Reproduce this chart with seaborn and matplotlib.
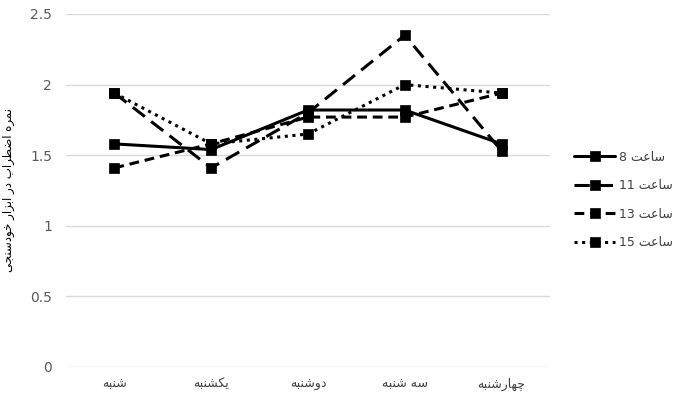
import matplotlib
matplotlib.use("Agg")
import matplotlib.pyplot as plt
import seaborn as sns
import pandas as pd

# ---- data -------------------------------------------------------------
days = ["شنبه", "یکشنبه", "دوشنبه", "سه شنبه", "چهارشنبه"]
hours = ["ساعت 8", "ساعت 11", "ساعت 13", "ساعت 15"]
h8 = [1.58, 1.54, 1.82, 1.82, 1.58]
h11 = [1.94, 1.41, 1.80, 2.35, 1.53]
h13 = [1.41, 1.58, 1.77, 1.77, 1.94]
h15 = [1.94, 1.58, 1.65, 2.00, 1.94]
y_ticks = [0, 0.5, 1, 1.5, 2, 2.5]
y_tick_labels = ["0", "0.5", "1", "1.5", "2", "2.5"]
y_title = "نمره اضطراب در ابزار خودسنجی"

# ---- minimal Arabic-script shaping (contextual forms + RTL order) -----
FORMS = {  # isolated, final, initial, medial
    "ا": ("\uFE8D", "\uFE8E", None, None),
    "د": ("\uFEA9", "\uFEAA", None, None),
    "ر": ("\uFEAD", "\uFEAE", None, None),
    "ز": ("\uFEAF", "\uFEB0", None, None),
    "و": ("\uFEED", "\uFEEE", None, None),
    "ب": ("\uFE8F", "\uFE90", "\uFE91", "\uFE92"),
    "ت": ("\uFE95", "\uFE96", "\uFE97", "\uFE98"),
    "ج": ("\uFE9D", "\uFE9E", "\uFE9F", "\uFEA0"),
    "خ": ("\uFEA5", "\uFEA6", "\uFEA7", "\uFEA8"),
    "س": ("\uFEB1", "\uFEB2", "\uFEB3", "\uFEB4"),
    "ش": ("\uFEB5", "\uFEB6", "\uFEB7", "\uFEB8"),
    "ض": ("\uFEBD", "\uFEBE", "\uFEBF", "\uFEC0"),
    "ط": ("\uFEC1", "\uFEC2", "\uFEC3", "\uFEC4"),
    "ع": ("\uFEC9", "\uFECA", "\uFECB", "\uFECC"),
    "م": ("\uFEE1", "\uFEE2", "\uFEE3", "\uFEE4"),
    "ن": ("\uFEE5", "\uFEE6", "\uFEE7", "\uFEE8"),
    "ه": ("\uFEE9", "\uFEEA", "\uFEEB", "\uFEEC"),
    "چ": ("\uFB7A", "\uFB7B", "\uFB7C", "\uFB7D"),
    "ک": ("\uFB8E", "\uFB8F", "\uFB90", "\uFB91"),
    "ی": ("\uFBFC", "\uFBFD", "\uFBFE", "\uFBFF"),
}


def _shape_word(word):
    out = []
    for i, ch in enumerate(word):
        if ch not in FORMS:
            out.append(ch)
            continue
        prev = word[i - 1] if i > 0 else None
        nxt = word[i + 1] if i + 1 < len(word) else None
        join_prev = prev in FORMS and FORMS[prev][2] is not None
        join_next = FORMS[ch][2] is not None and nxt in FORMS
        iso, fin, ini, med = FORMS[ch]
        if join_prev and join_next:
            out.append(med)
        elif join_prev:
            out.append(fin)
        elif join_next:
            out.append(ini)
        else:
            out.append(iso)
    return "".join(out)


def rtl(text):
    words = text.split(" ")
    vis = []
    for w in reversed(words):
        vis.append(w if w.isdigit() else _shape_word(w)[::-1])
    return " ".join(vis)


# ---- long-form table --------------------------------------------------
day_lbl = [rtl(d) for d in days]
hour_lbl = [rtl(h) for h in hours]
rows = []
for lbl, vals in zip(hour_lbl, [h8, h11, h13, h15]):
    for d, v in zip(day_lbl, vals):
        rows.append({"day": d, "score": v, "hour": lbl})
df = pd.DataFrame(rows)

# ---- figure -----------------------------------------------------------
sns.set_theme(style="white")
plt.rcParams["font.family"] = ["DejaVu Sans"]

fig = plt.figure(figsize=(6.74, 4.0), dpi=100)
ax = fig.add_axes([66 / 674, 33 / 400, 484 / 674, 353 / 400])

dashes = {
    hour_lbl[0]: "",
    hour_lbl[1]: (5.0, 2.6),
    hour_lbl[2]: (3.2, 1.9),
    hour_lbl[3]: (1.0, 1.5),
}
markers = {h: "s" for h in hour_lbl}

sns.lineplot(
    data=df, x="day", y="score", style="hour", style_order=hour_lbl,
    dashes=dashes, markers=markers, color="black", linewidth=2.2,
    markersize=7, markeredgecolor="black", markeredgewidth=0.5,
    sort=False, ax=ax,
)

ax.set_xlim(-0.5, len(days) - 0.5)
ax.set_ylim(0, 2.5)
ax.set_yticks(y_ticks)
ax.set_yticklabels(y_tick_labels)
ax.yaxis.grid(True, color="#d9d9d9", linewidth=1)
ax.set_axisbelow(True)
for s in ax.spines.values():
    s.set_visible(False)
ax.tick_params(axis="y", length=0, pad=10, labelsize=10, labelcolor="#595959")
ax.tick_params(axis="x", length=0, pad=8, labelsize=9, labelcolor="#404040")
ax.set_xlabel("")
ax.set_ylabel(rtl(y_title), fontsize=8.5, color="black")
ax.yaxis.set_label_coords(-0.105, 0.5)

handles, labels = ax.get_legend_handles_labels()
ax.legend(
    handles, labels, loc="center left", bbox_to_anchor=(574 / 674, 200 / 400),
    bbox_transform=fig.transFigure, frameon=False, fontsize=9,
    handlelength=3.3, labelspacing=1.25, handletextpad=0.3,
    borderpad=0, borderaxespad=0, labelcolor="#404040",
)

fig.savefig("out.png", dpi=100)
